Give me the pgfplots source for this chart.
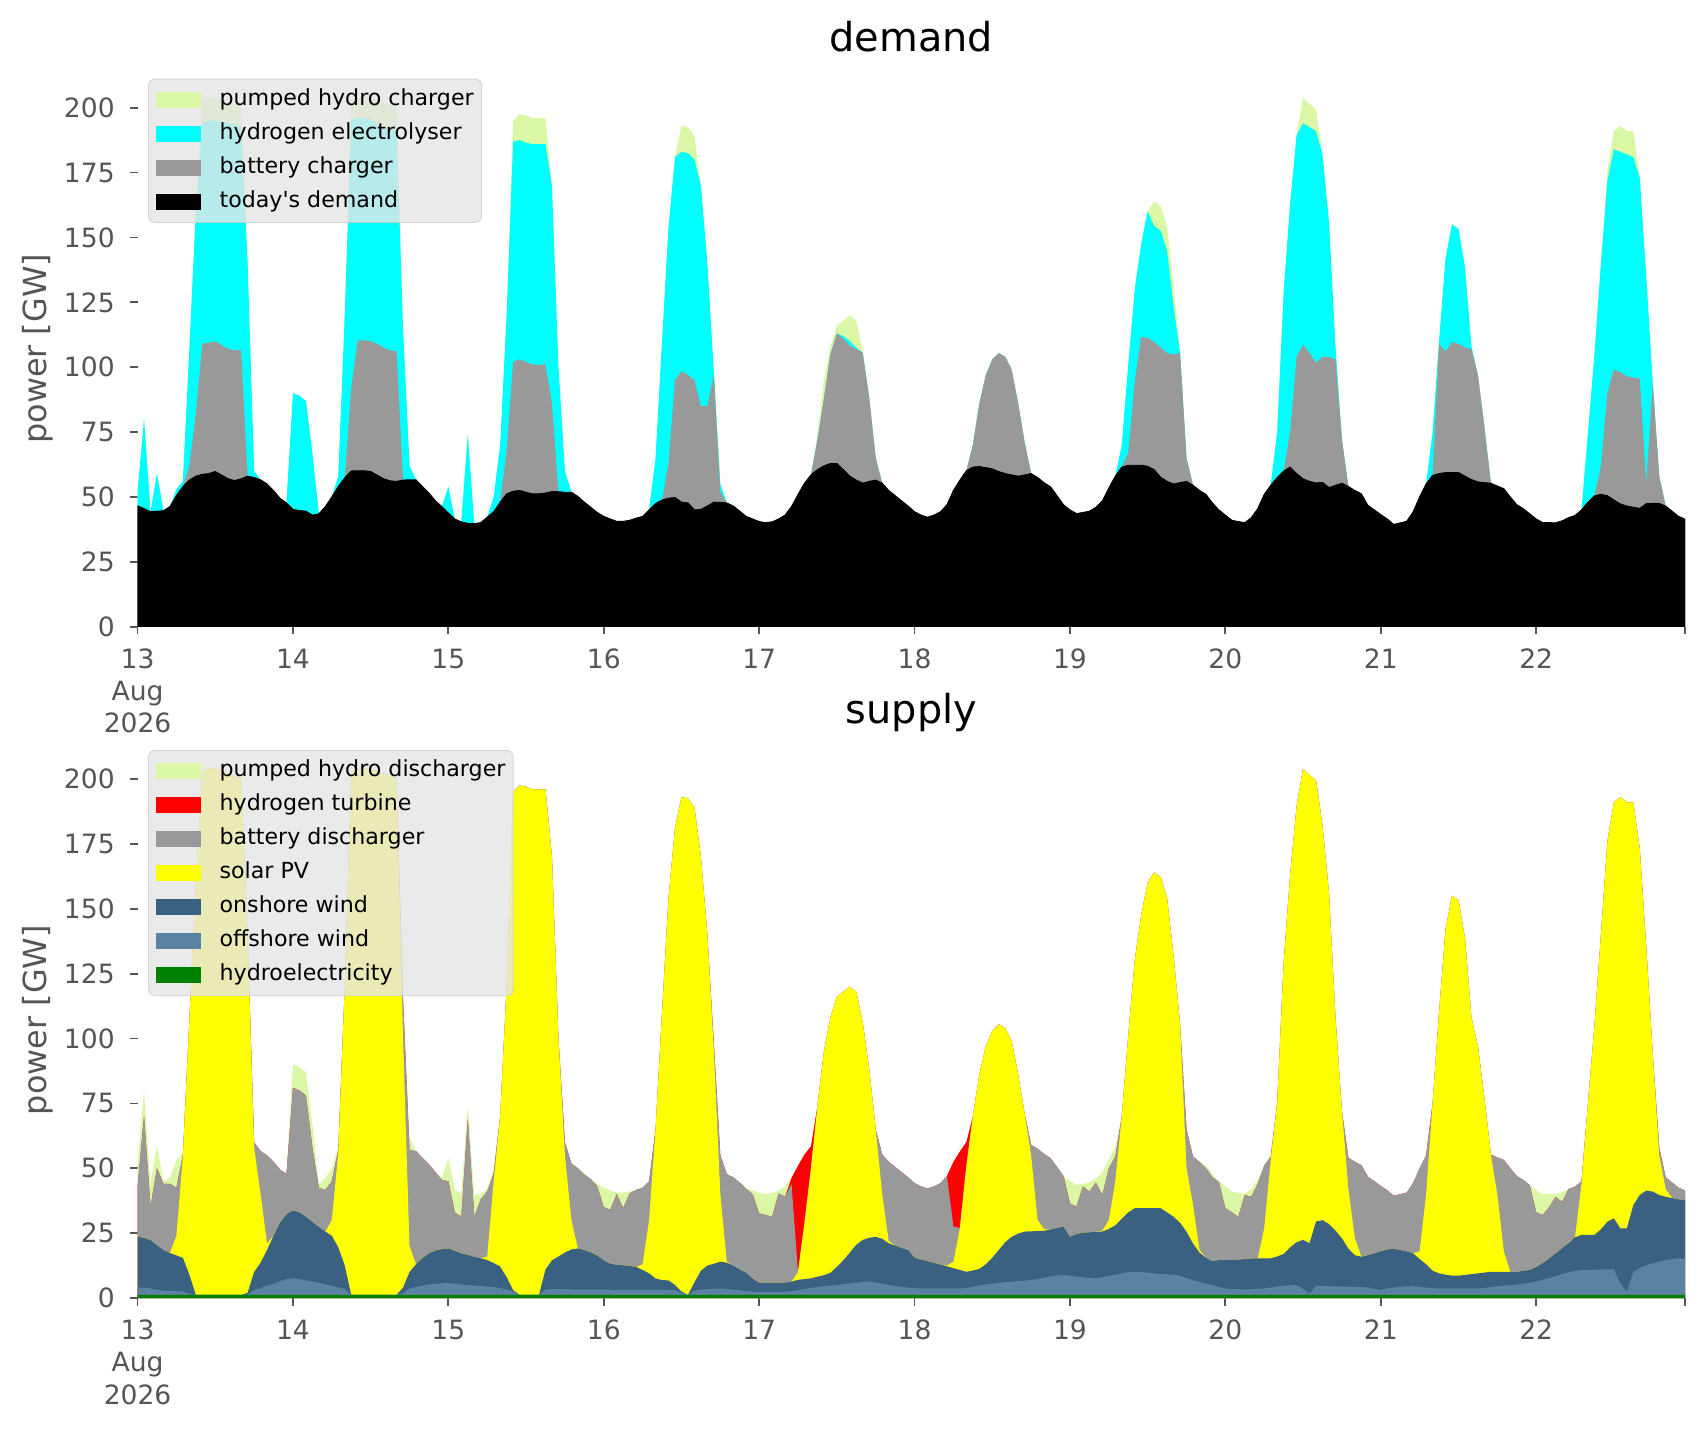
\documentclass[border=0pt]{standalone}
\usepackage{fontspec}
\setmainfont{DejaVu Sans}[Ligatures=TeXOff]
\usepackage{pgfplots}
\usepackage{pgfplotstable}
\pgfplotsset{compat=1.18}
\definecolor{phc}{HTML}{DAF7A6}
\definecolor{elc}{RGB}{0,255,255}
\definecolor{batc}{HTML}{999999}
\definecolor{pvy}{RGB}{255,255,0}
\definecolor{htr}{RGB}{255,0,0}
\definecolor{onw}{HTML}{3B6182}
\definecolor{offw}{HTML}{5C82A3}
\definecolor{hyd}{RGB}{0,128,0}
\definecolor{tickgray}{HTML}{555555}
\definecolor{legbg}{HTML}{E5E5E5}
\definecolor{legedge}{HTML}{CCCCCC}

% top panel: cumulative boundaries
% D = today's demand, bat = + battery charger, ely = + electrolyser, tot = + pumped hydro charger (total)
\pgfplotstableread{
h D bat ely tot
0 46.6 46.6 52 52
1 45.5 45.5 80 80
2 44.3 44.3 44.3 44.3
3 44.5 44.5 59 59
4 44.7 44.7 44.7 44.7
5 46.3 46.3 46.3 46.3
6 50.5 50.5 53 53
7 54 54 56 56
8 56.5 62 107 107
9 58 82 160 160
10 58.7 109 194 203
11 59 109.5 195 204
12 59.8 110 195 204
13 58.4 108.5 194.5 203.5
14 57 107 194 202
15 56.3 106.6 193.5 201
16 57 106.5 193 200
17 58 58 140 140
18 57.5 57.5 60 60
19 56.6 56.6 56.6 56.6
20 55 55 55 55
21 52.5 52.5 52.5 52.5
22 49.5 49.5 49.5 49.5
23 47.7 47.7 47.7 47.7
24 45.2 45.2 90 90
25 44.8 44.8 89 89
26 44.5 44.5 87 87
27 43 43 67 67
28 43.5 43.5 43.5 43.5
29 46.3 46.3 46.3 46.3
30 50 50 50 50
31 54 54 58 58
32 57.4 57.4 120 120
33 60 92 195 203
34 60.1 110.3 196 204
35 60.1 110.3 196 204
36 59.8 110 195.5 204
37 58.4 109 194 203
38 57 107.5 192 202
39 56.2 106.5 191.5 201.5
40 56 106.2 191 200
41 56.5 56.5 115 115
42 56.6 56.6 62 62
43 56.6 56.6 56.6 56.6
44 54 54 54 54
45 51.5 51.5 51.5 51.5
46 48.5 48.5 48.5 48.5
47 46.3 46.3 46.3 46.3
48 43.8 43.8 54 54
49 41.5 41.5 41.5 41.5
50 40.4 40.4 40.4 40.4
51 39.8 39.8 74 74
52 39.7 39.7 39.7 39.7
53 40.1 40.1 40.1 40.1
54 42.2 42.2 42.2 42.2
55 44.3 44.3 50 50
56 48 48 70 70
57 51.2 68 120 120
58 52.2 102 187 195
59 52.5 103 187.5 197.5
60 51.8 102 186.5 197
61 51.2 101 186 196
62 51.2 101 186 196
63 51.5 101 186 196
64 52.1 86 170 170
65 52 52 100 100
66 51.8 51.8 60 60
67 51.8 51.8 51.8 51.8
68 50.2 50.2 50.2 50.2
69 48 48 48 48
70 46 46 46 46
71 44 44 44 44
72 42.5 42.5 42.5 42.5
73 41.5 41.5 41.5 41.5
74 40.6 40.6 40.6 40.6
75 40.6 40.6 40.6 40.6
76 41 41 41 41
77 41.8 41.8 41.8 41.8
78 42.5 42.5 42.5 42.5
79 45 45 45 45
80 47.5 47.5 65 65
81 48.8 48.8 110 110
82 49.5 63 154 154
83 49.8 95 181 181
84 48 98.5 183 193
85 47.7 97 182.5 192.5
86 45 95 180 189
87 45.2 85 170 170
88 46.5 85 140 140
89 48 97 98 98
90 47.9 52 55 55
91 47.7 47.7 47.7 47.7
92 46.5 46.5 46.5 46.5
93 44.5 44.5 44.5 44.5
94 42.5 42.5 42.5 42.5
95 41.5 41.5 41.5 41.5
96 40.5 40.5 40.5 40.5
97 40.1 40.1 40.1 40.1
98 40.4 40.4 40.4 40.4
99 41.5 41.5 41.5 41.5
100 43 43 43 43
101 46.3 46.3 46.3 46.3
102 51 51 51 51
103 55.3 55.3 55.3 55.3
104 58.5 58.5 58.5 58.5
105 60.5 72 72 74
106 62 88 88 95
107 62.9 105 105 108
108 62.9 113 113 116
109 60.5 111 112 118
110 58 108.3 110 120
111 56.5 107 107.5 118
112 55.3 105.5 105.5 106
113 56 88 88 88
114 56.5 65 65 65
115 55.3 55.3 55.3 55.3
116 52.5 52.5 52.5 52.5
117 50.5 50.5 50.5 50.5
118 48.5 48.5 48.5 48.5
119 46.5 46.5 46.5 46.5
120 44.3 44.3 44.3 44.3
121 43 43 43 43
122 42.2 42.2 42.2 42.2
123 43 43 43 43
124 44.3 44.3 44.3 44.3
125 47 47 47 47
126 52.5 52.5 52.5 52.5
127 56.5 56.5 56.5 56.5
128 60.1 60.1 60.1 60.1
129 61.5 70 70 70
130 61.7 86 86 86
131 61.3 97 97 97
132 60.8 103 103 103
133 59.8 105.5 105.5 105.5
134 59 104 104 104
135 58.5 99 99 99
136 58 86 86 86
137 58.5 71 71 71
138 59 59 59 59
139 57.5 57.5 57.5 57.5
140 55.5 55.5 55.5 55.5
141 53.9 53.9 53.9 53.9
142 50.5 50.5 50.5 50.5
143 47 47 47 47
144 45 45 45 45
145 43.6 43.6 43.6 43.6
146 44 44 44 44
147 44.5 44.5 44.5 44.5
148 46 46 46 46
149 48.5 48.5 48.5 48.5
150 53.5 53.5 53.5 53.5
151 58 58 58 58
152 61.5 61.5 70 70
153 62.2 67 101 101
154 62.2 94.5 130 130
155 62.2 111.7 147.5 147.5
156 61.8 111.3 160 160
157 60.5 109.7 154.4 164
158 57.6 107.6 152.6 162.2
159 56 105.5 144.8 154
160 55 104.8 123.4 131.7
161 55.5 105.5 105.5 105.5
162 56 65 65 65
163 54.5 54.5 54.5 54.5
164 52.5 52.5 52.5 52.5
165 51 51 51 51
166 47.7 47.7 47.7 47.7
167 45 45 45 45
168 43 43 43 43
169 41 41 41 41
170 40.5 40.5 40.5 40.5
171 40.1 40.1 40.1 40.1
172 42 42 42 42
173 45.5 45.5 45.5 45.5
174 51 51 51 51
175 54.5 54.5 54.5 54.5
176 57.5 57.5 75 75
177 60 60 129 129
178 61.5 75 163 163
179 59 104 189.5 189.5
180 57 108.6 194 204
181 56 105.5 192.5 201.5
182 55.4 101.7 191 199.5
183 55.6 104 182 182
184 53.6 104 156 156
185 54.5 103 108 108
186 55.3 72 72 72
187 54 54 54 54
188 52.5 52.5 52.5 52.5
189 51.2 51.2 51.2 51.2
190 46.8 46.8 46.8 46.8
191 45 45 45 45
192 43.2 43.2 43.2 43.2
193 41.5 41.5 41.5 41.5
194 39.4 39.4 39.4 39.4
195 40 40 40 40
196 40.6 40.6 40.6 40.6
197 44.3 44.3 44.3 44.3
198 50 50 50 50
199 55 55 55 55
200 58.3 58.3 75 75
201 59 109 110 110
202 59.4 106 142 142
203 59.4 109.7 155 155
204 59.4 109 153.3 153.3
205 58 107.6 138.6 138.6
206 56.7 107 108 108
207 55.8 97 97 97
208 55.5 77 77 77
209 55.3 55.3 55.3 55.3
210 54.2 54.2 54.2 54.2
211 53.2 53.2 53.2 53.2
212 50 50 50 50
213 47 47 47 47
214 45.5 45.5 45.5 45.5
215 43.5 43.5 43.5 43.5
216 41.5 41.5 41.5 41.5
217 40.1 40.1 40.1 40.1
218 40.1 40.1 40.1 40.1
219 40 40 40 40
220 40.8 40.8 40.8 40.8
221 42 42 42 42
222 42.9 42.9 42.9 42.9
223 45 45 45 45
224 48 48 75 75
225 50.4 50.4 105 105
226 51 62 140 140
227 50.5 90 172 176
228 48.8 99 184 191
229 47.3 98 183 193
230 46.5 96.5 182 191
231 46 96 181 191
232 45.6 95.5 173 173
233 47.4 55 135 135
234 47.5 94 94 94
235 47.5 58 58 58
236 46.5 46.5 46.5 46.5
237 44.5 44.5 44.5 44.5
238 42.5 42.5 42.5 42.5
239 41.4 41.4 41.4 41.4
}\topdata

% bottom panel: cumulative boundaries (hy = hydro, off = +offshore, on = +onshore,
% pv = +solar, bd = +battery discharger, ht = +hydrogen turbine); total = tot above
\pgfplotstableread{
h hy off on pv bd ht
0 1.2 4.1 23.6 23.6 43 43
1 1.2 3.9 23.2 23.2 70 70
2 1.2 3.7 22.3 22.3 35.2 35.2
3 1.2 3.2 20.3 20.3 50 50
4 1.2 2.8 18.5 18.5 44 44
5 1.2 2.7 17.3 17.3 44 44
6 1.2 2.6 16.4 24 42.5 42.5
7 1.2 2.6 15.5 54.5 55 55
8 1.2 1.5 9 107 107 107
9 1.2 1.2 1.2 160 160 160
10 1.2 1.2 1.2 203 203 203
11 1.2 1.2 1.2 204 204 204
12 1.2 1.2 1.2 204 204 204
13 1.2 1.2 1.2 203.5 203.5 203.5
14 1.2 1.2 1.2 202 202 202
15 1.2 1.2 1.2 201 201 201
16 1.2 1.2 1.2 200 200 200
17 1.2 1.4 2 140 140 140
18 1.2 3.1 10 58 60 60
19 1.2 3.8 13.6 40 56.6 56.6
20 1.2 4.8 18.5 21 55 55
21 1.2 5.5 24 24 52.5 52.5
22 1.2 6.5 29 29 49.5 49.5
23 1.2 7.3 32.3 32.3 47.7 47.7
24 1.2 7.6 33.7 33.7 81 81
25 1.2 7.2 33 33 80 80
26 1.2 6.8 31.3 31.3 78 78
27 1.2 6.3 29.3 29.3 58 58
28 1.2 5.8 27.4 27.4 42.5 42.5
29 1.2 5.3 25.6 25.6 41.6 41.6
30 1.2 4.7 24 30 45 45
31 1.2 4.1 19.5 56 57 57
32 1.2 3.5 12.5 120 120 120
33 1.2 1.2 1.2 203 203 203
34 1.2 1.2 1.2 204 204 204
35 1.2 1.2 1.2 204 204 204
36 1.2 1.2 1.2 204 204 204
37 1.2 1.2 1.2 203 203 203
38 1.2 1.2 1.2 202 202 202
39 1.2 1.2 1.2 201.5 201.5 201.5
40 1.2 1.2 1.2 200 200 200
41 1.2 1.8 4 100 115 115
42 1.2 3.7 10 20 57 57
43 1.2 4.3 13 13 56.6 56.6
44 1.2 4.8 15.3 15.3 54 54
45 1.2 5.2 17.2 17.2 51.5 51.5
46 1.2 5.5 18.3 18.3 48.5 48.5
47 1.2 5.7 18.8 18.8 45.5 45.5
48 1.2 5.7 19.1 19.1 45 45
49 1.2 5.5 18.2 18.2 33 33
50 1.2 5.2 17.2 17.2 31.3 31.3
51 1.2 5 16.6 16.6 69 69
52 1.2 4.8 15.9 15.9 31.3 31.3
53 1.2 4.6 15.3 15.3 38 38
54 1.2 4.4 14.6 16 41 41
55 1.2 4.2 13.5 45 48 48
56 1.2 3.8 12.1 70 70 70
57 1.2 3.3 8 120 120 120
58 1.2 2.5 3 195 195 195
59 1.2 1.2 1.2 197.5 197.5 197.5
60 1.2 1.2 1.2 197 197 197
61 1.2 1.2 1.2 196 196 196
62 1.2 1.2 1.2 196 196 196
63 1.2 3.3 11 196 196 196
64 1.2 3.4 14.5 170 170 170
65 1.2 3.5 16 100 100 100
66 1.2 3.4 17.5 55 60 60
67 1.2 3.3 18.7 30 51.8 51.8
68 1.2 3.2 19.1 19.1 50 50
69 1.2 3.2 18.5 18.5 47.5 47.5
70 1.2 3.2 17.6 17.6 45.8 45.8
71 1.2 3.2 16.3 16.3 43 43
72 1.2 3.2 14.5 14.5 35 35
73 1.2 3.2 13.2 13.2 34 34
74 1.2 3.1 12.8 12.8 40 40
75 1.2 3.1 12.6 12.6 34.6 34.6
76 1.2 3.1 12.3 12.3 40.3 40.3
77 1.2 3.1 12 12 41.6 41.6
78 1.2 3.1 10.8 13 42.5 42.5
79 1.2 3.1 9.5 30 45 45
80 1.2 3.1 7.5 65 65 65
81 1.2 3.1 6.9 110 110 110
82 1.2 3.1 6.8 154 154 154
83 1.2 3 5 181 181 181
84 1.2 2 2.5 193 193 193
85 1.2 1.2 1.2 192.5 192.5 192.5
86 1.2 2.8 6 189 189 189
87 1.2 3.2 10.5 170 170 170
88 1.2 3.4 12.5 140 140 140
89 1.2 3.6 13.2 95 98 98
90 1.2 3.7 14 40 55 55
91 1.2 3.5 13.6 14 47.7 47.7
92 1.2 3.2 12.5 12.5 46.5 46.5
93 1.2 3 11 11 44.5 44.5
94 1.2 2.7 9.7 9.7 42 42
95 1.2 2.5 7.5 7.5 40 40
96 1.2 2.4 5.9 5.9 32.6 32.6
97 1.2 2.4 5.9 5.9 32 32
98 1.2 2.4 5.9 5.9 31.3 31.3
99 1.2 2.4 5.9 5.9 40.3 40.3
100 1.2 2.4 5.9 5.9 39 39
101 1.2 2.6 6.3 6.3 44 46.3
102 1.2 3 7 10 10 51
103 1.2 3.5 7.3 29 29 55.3
104 1.2 3.9 7.6 50 50 58.5
105 1.2 4.2 8.2 74 74 74
106 1.2 4.5 8.8 95 95 95
107 1.2 4.8 9.7 108 108 108
108 1.2 5 12 116 116 116
109 1.2 5.3 14.5 118 118 118
110 1.2 5.6 17.5 120 120 120
111 1.2 5.9 20.5 118 118 118
112 1.2 6.2 22.4 106 106 106
113 1.2 6.3 23.2 88 88 88
114 1.2 6 23.6 65 65 65
115 1.2 5.5 22.8 40 55.3 55.3
116 1.2 5 21.1 22 52.5 52.5
117 1.2 4.6 20.2 20.2 50.5 50.5
118 1.2 4.3 19.3 19.3 48.5 48.5
119 1.2 4 18.5 18.5 46.5 46.5
120 1.2 3.8 15.5 15.5 44.3 44.3
121 1.2 3.7 14.8 14.8 43 43
122 1.2 3.7 14.2 14.2 42.2 42.2
123 1.2 3.7 13.5 13.5 43 43
124 1.2 3.7 12.9 12.9 44.3 44.3
125 1.2 3.7 12.2 12.5 47 47
126 1.2 3.7 11.5 14 27.5 52.5
127 1.2 3.7 10.8 27 27 56.5
128 1.2 3.8 10.1 51 51 60.1
129 1.2 4.3 10.6 70 70 70
130 1.2 4.8 11.2 86 86 86
131 1.2 5.2 13 97 97 97
132 1.2 5.5 15.5 103 103 103
133 1.2 5.8 18.5 105.5 105.5 105.5
134 1.2 6.1 21.5 104 104 104
135 1.2 6.3 23.6 99 99 99
136 1.2 6.5 24.8 86 86 86
137 1.2 6.7 25.6 71 71 71
138 1.2 6.9 25.7 55 59 59
139 1.2 7.3 25.8 30 57.5 57.5
140 1.2 7.8 25.9 26.5 55.5 55.5
141 1.2 8.3 26.4 26.4 53.9 53.9
142 1.2 8.7 27 27 50.5 50.5
143 1.2 8.9 27.5 27.5 47 47
144 1.2 8.6 23.6 23.6 36.5 36.5
145 1.2 8.3 24.6 24.6 35.2 35.2
146 1.2 8 25.2 25.2 43 43
147 1.2 7.8 25.3 25.3 41 41
148 1.2 7.6 25.5 25.5 44.5 44.5
149 1.2 8 25.6 26 39.7 39.7
150 1.2 8.5 26.6 30 50 50
151 1.2 9 28 45 54.5 54.5
152 1.2 9.5 30.5 70 70 70
153 1.2 9.9 33 101 101 101
154 1.2 10.1 34.6 130 130 130
155 1.2 10 34.6 147.5 147.5 147.5
156 1.2 9.8 34.6 160 160 160
157 1.2 9.5 34.6 164 164 164
158 1.2 9.3 34.6 162.2 162.2 162.2
159 1.2 9.1 33 154 154 154
160 1.2 8.9 31.3 131.7 131.7 131.7
161 1.2 8.6 29 105.5 105.5 105.5
162 1.2 7.7 25.5 50 65 65
163 1.2 6.9 21 36 54.5 54.5
164 1.2 6.2 17.5 18.5 52.5 52.5
165 1.2 5.6 15.5 15.5 50 50
166 1.2 5 14.2 14.2 46.5 46.5
167 1.2 4.2 14.6 14.6 44.7 44.7
168 1.2 3.7 14.6 14.6 34.6 34.6
169 1.2 3.5 14.6 14.6 33 33
170 1.2 3.4 14.8 14.8 31.3 31.3
171 1.2 3.3 15 15 39.7 39.7
172 1.2 3.4 15.2 15.2 39 39
173 1.2 3.6 15.3 15.3 44 44
174 1.2 3.7 15.3 27 51 51
175 1.2 4 15.3 53 54.5 54.5
176 1.2 4.5 16 75 75 75
177 1.2 4.7 17 129 129 129
178 1.2 4.9 19.5 163 163 163
179 1.2 5 21.5 189.5 189.5 189.5
180 1.2 3.5 22.4 204 204 204
181 1.2 1.8 21.1 201.5 201.5 201.5
182 1.2 4.6 29.5 199.5 199.5 199.5
183 1.2 4.6 30 182 182 182
184 1.2 4.5 28.5 156 156 156
185 1.2 4.5 26 108 108 108
186 1.2 4.4 23 72 72 72
187 1.2 4.3 19 42 54 54
188 1.2 4.2 16.5 23 52.5 52.5
189 1.2 4.2 15.9 16 51.2 51.2
190 1.2 4.1 16.5 16.5 46.8 46.8
191 1.2 3.5 17.2 17.2 45 45
192 1.2 3.1 18 18 43.2 43.2
193 1.2 3.7 18.7 18.7 41.5 41.5
194 1.2 4 19 19 39.4 39.4
195 1.2 4.3 18.5 18.5 40 40
196 1.2 4.5 18 18 40.6 40.6
197 1.2 4.6 17.2 17.2 44.3 44.3
198 1.2 4.3 15 18 50 50
199 1.2 4 13 40 55 55
200 1.2 3.8 10.5 75 75 75
201 1.2 3.7 9.5 110 110 110
202 1.2 3.7 9 142 142 142
203 1.2 3.7 8.6 155 155 155
204 1.2 3.7 8.6 153.3 153.3 153.3
205 1.2 3.7 8.9 138.6 138.6 138.6
206 1.2 3.7 9.2 108 108 108
207 1.2 3.7 9.5 97 97 97
208 1.2 3.8 9.8 77 77 77
209 1.2 4.2 10.1 55.3 55.3 55.3
210 1.2 4.5 10.1 40 54.2 54.2
211 1.2 4.8 10.1 18 53.2 53.2
212 1.2 5 10.1 10.1 50 50
213 1.2 5.2 10.1 10.1 47 47
214 1.2 5.5 10.5 10.5 45.5 45.5
215 1.2 5.8 10.8 10.8 43.5 43.5
216 1.2 6.4 12 12 33 33
217 1.2 7 13.4 13.4 32 32
218 1.2 7.6 15.3 15.3 35 35
219 1.2 8.4 17.2 17.2 39 39
220 1.2 9.2 19.2 19.2 37 37
221 1.2 9.9 21.1 21.1 42 42
222 1.2 10.5 23.4 23.4 42.9 42.9
223 1.2 10.7 24.3 44 45 45
224 1.2 10.8 24.3 75 75 75
225 1.2 10.9 24.3 105 105 105
226 1.2 11 26.5 140 140 140
227 1.2 11 29.4 176 176 176
228 1.2 11 30.7 191 191 191
229 1.2 5.7 26.8 193 193 193
230 1.2 2.4 26.8 191 191 191
231 1.2 10.1 35.8 191 191 191
232 1.2 11.5 39.7 173 173 173
233 1.2 12.7 41.4 135 135 135
234 1.2 13.4 41 94 94 94
235 1.2 14 39.7 55 58 58
236 1.2 14.6 39 42 46.5 46.5
237 1.2 15.1 38.5 38.5 44.5 44.5
238 1.2 15.3 38 38 42.5 42.5
239 1.2 15 37.8 37.8 41.4 41.4
}\botdata

\pgfplotsset{
  panel/.style={
    scale only axis, width=696.4bp, height=250.1bp,
    xmin=0, xmax=239, ymin=0, ymax=214.2,
    axis line style={draw=none},
    tick align=outside, xtick pos=left, ytick pos=left,
    major tick length=3.5bp,
    tick style={color=tickgray, line width=0.8bp},
    xtick={0,24,...,216},
    xticklabels={13,14,15,16,17,18,19,20,21,22},
    extra x ticks={239}, extra x tick labels={},
    ytick={0,25,...,200},
    /pgf/number format/assume math mode=true,
    ticklabel style={font=\fontsize{12}{14.4}\selectfont, text=tickgray},
    yticklabel style={anchor=east, inner sep=0pt, xshift=-6.6bp},
    xticklabel style={anchor=base, inner sep=0pt, yshift=-15.2bp},
    title style={font=\fontsize{18}{21}\selectfont, at={(0.5,1)}, anchor=base, yshift=2.6bp, inner sep=0pt},
    every axis y label/.style={at={(rel axis cs:-0.0645,0.5)}, rotate=90, anchor=center, font=\fontsize{14.4}{17}\selectfont, text=tickgray},
    ylabel={power [GW]},
    legend image code/.code={\fill[##1, fill opacity=1, draw=none, sharp corners] (0bp,-3.5bp) rectangle (20.3bp,3.5bp);},
    legend cell align=left,
    legend style={at={(rel axis cs:0.0068,0.986)}, anchor=north west,
      fill=legbg, fill opacity=0.8, draw=legedge, draw opacity=0.8, text opacity=1,
      rounded corners=2.5bp, font=\fontsize{10}{12}\selectfont,
      inner xsep=3.5bp, inner ysep=4.55bp, row sep=5.8bp,
      nodes={inner sep=0pt, text height=7.3bp, text depth=2.2bp},
      /tikz/every odd column/.append style={column sep=8.2bp}},
  }
}

\begin{document}
\begin{tikzpicture}
\useasboundingbox (0,0) rectangle (767.7bp,-644bp);

\begin{axis}[panel, name=top, at={(61.9bp,-31.9bp)}, anchor=north west, title={demand}]
\addplot[fill=phc, draw=none] table[x=h, y=tot] {\topdata} \closedcycle;
\addlegendentry{pumped hydro charger}
\addplot[fill=elc, draw=none] table[x=h, y=ely] {\topdata} \closedcycle;
\addlegendentry{hydrogen electrolyser}
\addplot[fill=batc, draw=none] table[x=h, y=bat] {\topdata} \closedcycle;
\addlegendentry{battery charger}
\addplot[fill=black, draw=black, line width=0.4bp] table[x=h, y=D] {\topdata} \closedcycle;
\addlegendentry{today's demand}
\end{axis}
\node[anchor=base, inner sep=0pt, font=\fontsize{12}{14.4}\selectfont, text=tickgray] at ([yshift=-33.2bp]top.south west) {Aug};
\node[anchor=base, inner sep=0pt, font=\fontsize{12}{14.4}\selectfont, text=tickgray] at ([yshift=-47.7bp]top.south west) {2026};

\begin{axis}[panel, name=bot, at={(61.9bp,-334bp)}, anchor=north west, title={supply}]
\addplot[fill=phc, draw=none] table[x=h, y=tot] {\topdata} \closedcycle;
\addlegendentry{pumped hydro discharger}
\addplot[fill=htr, draw=none] table[x=h, y=ht] {\botdata} \closedcycle;
\addlegendentry{hydrogen turbine}
\addplot[fill=batc, draw=none] table[x=h, y=bd] {\botdata} \closedcycle;
\addlegendentry{battery discharger}
\addplot[fill=pvy, draw=none] table[x=h, y=pv] {\botdata} \closedcycle;
\addlegendentry{solar PV}
\addplot[fill=onw, draw=none] table[x=h, y=on] {\botdata} \closedcycle;
\addlegendentry{onshore wind}
\addplot[fill=offw, draw=none] table[x=h, y=off] {\botdata} \closedcycle;
\addlegendentry{offshore wind}
\addplot[fill=hyd, draw=none] table[x=h, y=hy] {\botdata} \closedcycle;
\addlegendentry{hydroelectricity}
\end{axis}
\node[anchor=base, inner sep=0pt, font=\fontsize{12}{14.4}\selectfont, text=tickgray] at ([yshift=-33.2bp]bot.south west) {Aug};
\node[anchor=base, inner sep=0pt, font=\fontsize{12}{14.4}\selectfont, text=tickgray] at ([yshift=-47.7bp]bot.south west) {2026};
\end{tikzpicture}
\end{document}
